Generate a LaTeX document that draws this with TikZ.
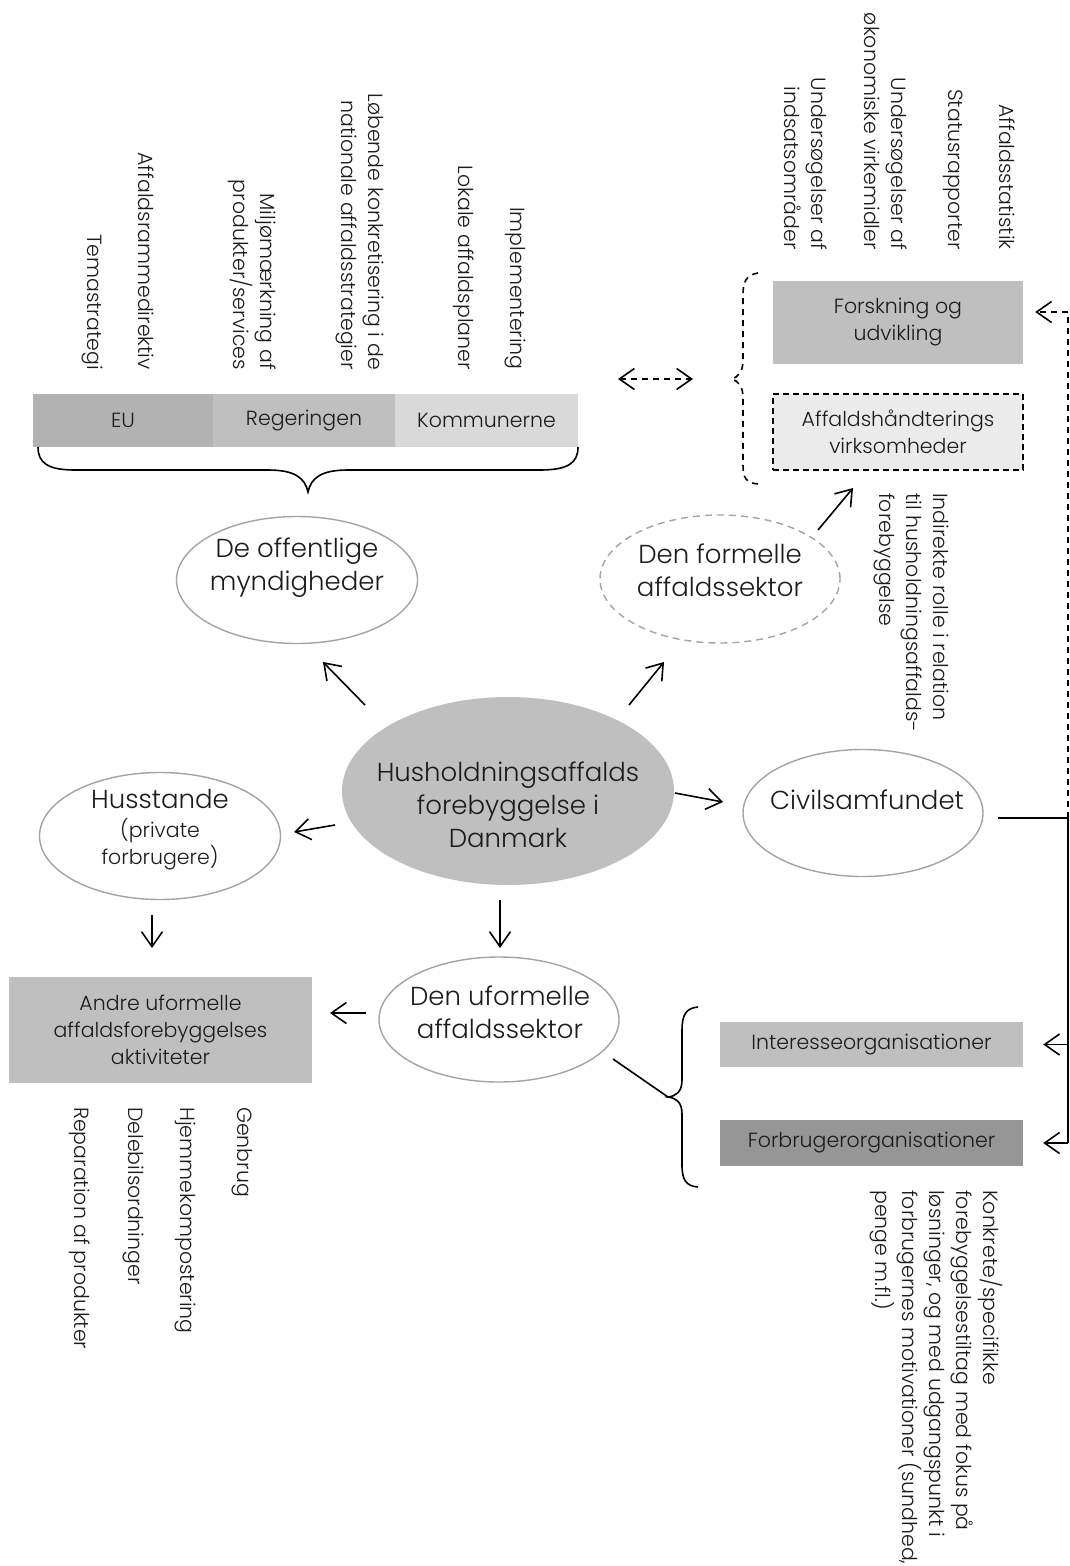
\documentclass[tikz,border=0pt]{standalone}
\usepackage{fontspec}
\IfFontExistsTF{Poppins Light}{\setmainfont{Poppins Light}}{\setmainfont{Poppins}}
\usetikzlibrary{shapes.geometric,arrows.meta}
\definecolor{gA}{HTML}{B2B2B2}
\definecolor{gB}{HTML}{BFBFBF}
\definecolor{gC}{HTML}{D9D9D9}
\definecolor{gD}{HTML}{EBEBEB}
\definecolor{gE}{HTML}{969696}
\definecolor{ellc}{HTML}{A3A3A3}
\definecolor{txt}{HTML}{1C1C1C}
\newcommand\bigfnt{\fontsize{26}{33}\selectfont}
\newcommand\smfnt{\fontsize{20.5}{27}\selectfont}
\tikzset{
  ell/.style={ellipse, draw=ellc, line width=1.4pt, inner sep=0pt},
  txtbig/.style={font=\bigfnt, align=center, inner sep=0pt, text=txt},
  txtsm/.style={font=\smfnt, align=center, inner sep=0pt, text=txt},
  rotend/.style={font=\smfnt, rotate=-90, anchor=east, align=right, inner sep=0pt, text=txt},
  rotstart/.style={font=\smfnt, rotate=-90, anchor=west, align=left, inner sep=0pt, text=txt},
  boxn/.style={rectangle, inner sep=0pt, font=\smfnt, align=center, text=txt},
  ln/.style={line width=1.6pt},
  arr/.style={line width=1.6pt, -{Straight Barb[length=15pt,width=21pt]}},
  dashln/.style={line width=1.6pt, dash pattern=on 6pt off 5pt},
}
\begin{document}
\begin{tikzpicture}[x=1pt,y=-1pt]
\useasboundingbox (0,0) rectangle (1069,1566);

% ---- top-left bar ----
\node[boxn, fill=gA, minimum width=180pt, minimum height=53pt] (eu) at (123,420.5) {EU};
\node[boxn, fill=gB, minimum width=182pt, minimum height=53pt] (reg) at (304,420.5) {Regeringen};
\node[boxn, fill=gC, minimum width=183pt, minimum height=53pt] (kom) at (486.5,420.5) {Kommunerne};

\node[rotend] (t1) at (92,370) {Temastrategi};
\node[rotend] (t2) at (146,370) {Affaldsrammedirektiv};
\node[rotend] (t3) at (252,370) {Miljømærkning af\\produkter/services};
\node[rotend] (t4) at (360,370) {Løbende konkretisering i de\\nationale affaldsstrategier};
\node[rotend] (t5) at (464,370) {Lokale affaldsplaner};
\node[rotend] (t6) at (515,370) {Implementering};

\draw[ln] (38,447) .. controls (38,463) and (48,470) .. (75,470) -- (268,470)
  .. controls (295,470) and (305,478) .. (308,492)
  .. controls (311,478) and (321,470) .. (348,470) -- (540,470)
  .. controls (568,470) and (578,463) .. (578,447);

% ---- top-right ----
\node[rotend] (r1) at (1007,250) {Affaldsstatistik};
\node[rotend] (r2) at (953,250) {Statusrapporter};
\node[rotend] (r3) at (886,250) {Undersøgelser af\\økonomiske virkemidler};
\node[rotend] (r4) at (806,250) {Undersøgelser af\\indsatsområder};

\node[boxn, fill=gB, minimum width=250pt, minimum height=83pt] (fou) at (898,322.5) {Forskning og\\udvikling};
\node[boxn, fill=gD, draw=black, line width=1.4pt, dash pattern=on 6pt off 4pt, minimum width=250pt, minimum height=76pt] (avh) at (898,432) {Affaldshåndterings\\virksomheder};

\draw[dashln] (758,273) .. controls (746,275) and (743,282) .. (743,295) -- (743,360)
  .. controls (743,372) and (738,377) .. (732,379)
  .. controls (738,381) and (743,386) .. (743,398) -- (743,465)
  .. controls (743,478) and (746,483) .. (758,484);

\coordinate (dl) at (618,379);
\coordinate (dr) at (693,379);
\draw[dashln, {Straight Barb[length=15pt,width=21pt]}-{Straight Barb[length=15pt,width=21pt]}] (dl) -- (dr);

% ---- ellipses ----
\node[ell, fill=gB, draw=none, minimum width=332pt, minimum height=188pt] (hub) at (508,791) {};
\node[txtbig] (hubT) at (508,804.5) {Husholdningsaffalds\\forebyggelse i\\Danmark};

\node[ell, minimum width=241pt, minimum height=127pt] (off) at (297,580) {};
\node[txtbig] (offT) at (297,568) {De offentlige\\myndigheder};

\node[ell, dash pattern=on 7pt off 5pt, minimum width=240pt, minimum height=128pt] (form) at (720,579) {};
\node[txtbig] (formT) at (720,570) {Den formelle\\affaldssektor};

\node[ell, minimum width=240pt, minimum height=127pt] (civ) at (863,813) {};
\node[txtbig] (civT) at (867,800) {Civilsamfundet};

\node[ell, minimum width=241pt, minimum height=127pt] (hus) at (160,836) {};
\node[txtbig] (husT) at (160,798.5) {Husstande};
\node[txtsm] (husS) at (160,844) {(private\\forbrugere)};

\node[ell, minimum width=240pt, minimum height=125pt] (ufo) at (499,1019.5) {};
\node[txtbig] (ufoT) at (500,1012) {Den uformelle\\affaldssektor};

\node[rotstart] (ind) at (911,493) {Indirekte rolle i relation\\til husholdningsaffalds-\\forebyggelse};

% ---- lower boxes ----
\node[boxn, fill=gB, minimum width=303pt, minimum height=106pt] (andre) at (160.5,1030) {Andre uformelle\\affaldsforebyggelses\\aktiviteter};
\node[boxn, fill=gB, minimum width=303pt, minimum height=45pt] (int) at (871.5,1044.5) {Interesseorganisationer};
\node[boxn, fill=gE, minimum width=303pt, minimum height=46pt] (fbr) at (871.5,1143) {Forbrugerorganisationer};

\node[rotstart] (b1) at (242,1107) {Genbrug};
\node[rotstart] (b2) at (185,1107) {Hjemmekompostering};
\node[rotstart] (b3) at (133,1107) {Delebilsordninger};
\node[rotstart] (b4) at (80,1107) {Reparation af produkter};

\node[rotstart] (konk) at (936,1190) {Konkrete/specifikke\\forebyggelsestiltag med fokus på\\løsninger, og med udgangspunkt i\\forbrugernes motivationer (sundhed,\\penge m.fl.)};

\draw[ln] (698,1007) .. controls (686,1008) and (682,1015) .. (682,1030) -- (682,1080)
  .. controls (682,1092) and (676,1096) .. (668,1097)
  .. controls (676,1098) and (682,1102) .. (682,1114) -- (682,1165)
  .. controls (682,1180) and (686,1186) .. (698,1187);

% ---- arrows ----
\coordinate (a1s) at (365,705); \coordinate (a1e) at (323,662);
\coordinate (a2s) at (629,705); \coordinate (a2e) at (664,662);
\coordinate (a3s) at (675,793); \coordinate (a3e) at (723,802);
\coordinate (a4s) at (335,825); \coordinate (a4e) at (294,832);
\coordinate (a5s) at (500,900); \coordinate (a5e) at (500,948);
\coordinate (a6s) at (152,915); \coordinate (a6e) at (152,948);
\coordinate (a7s) at (366,1013); \coordinate (a7e) at (330,1013);
\coordinate (a8s) at (818,530); \coordinate (a8e) at (853,488);
\coordinate (l1s) at (613,1059); \coordinate (l1e) at (668,1097);
\draw[arr] (a1s) -- (a1e);
\draw[arr] (a2s) -- (a2e);
\draw[arr] (a3s) -- (a3e);
\draw[arr] (a4s) -- (a4e);
\draw[arr] (a5s) -- (a5e);
\draw[arr] (a6s) -- (a6e);
\draw[arr] (a7s) -- (a7e);
\draw[arr] (a8s) -- (a8e);
\draw[ln] (l1s) -- (l1e);

% ---- right connector ----
\coordinate (civE) at (998,818);
\coordinate (rc) at (1068,818);
\coordinate (rt) at (1068,312);
\coordinate (ri) at (1068,1044.5);
\coordinate (rb) at (1068,1143);
\draw[ln] (civE) -- (rc) -- (rb);
\draw[arr, shorten >=20pt] (ri) -- (int.east);
\draw[arr, shorten >=20pt] (rb) -- (fbr.east);
\draw[dashln] (rc) -- (rt);
\draw[dashln, -{Straight Barb[length=15pt,width=21pt]}, shorten >=12pt] (rt) -- (rt -| fou.east);
\end{tikzpicture}
\end{document}
